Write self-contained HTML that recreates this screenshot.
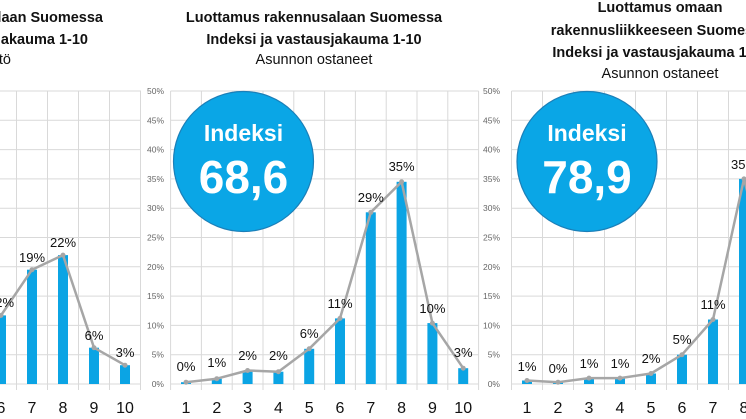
<!DOCTYPE html>
<html><head><meta charset="utf-8"><style>
html,body{margin:0;padding:0;background:#fff;}
svg{display:block;font-family:"Liberation Sans",sans-serif;}
.t{font-weight:bold;font-size:14.5px;fill:#111;}
.s{font-size:14.5px;fill:#111;}
.ya{font-size:8.5px;fill:#666;text-anchor:end;}
.xa{font-size:16px;fill:#111;text-anchor:middle;}
.dl{font-size:13px;fill:#111;text-anchor:middle;}
.g{stroke:#d9d9d9;stroke-width:1;}
.b{fill:#0ba4e4;}
.ln{fill:none;stroke:#a6a6a6;stroke-width:2.5;stroke-linejoin:round;}
.mk{fill:#a6a6a6;}
.ci{fill:#0aa6e6;stroke:#1b7fb8;stroke-width:1.2;}
.i1{font-weight:bold;font-size:23px;fill:#fff;text-anchor:middle;}
.i2{font-weight:bold;font-size:46px;fill:#fff;text-anchor:middle;}
</style></head><body>
<svg width="746" height="419" viewBox="0 0 746 419">
<!-- LEFT CHART -->
<g class="g">
<line x1="0" y1="384" x2="141" y2="384"/><line x1="0" y1="354.7" x2="141" y2="354.7"/><line x1="0" y1="325.4" x2="141" y2="325.4"/><line x1="0" y1="296.1" x2="141" y2="296.1"/><line x1="0" y1="266.8" x2="141" y2="266.8"/><line x1="0" y1="237.5" x2="141" y2="237.5"/><line x1="0" y1="208.2" x2="141" y2="208.2"/><line x1="0" y1="178.9" x2="141" y2="178.9"/><line x1="0" y1="149.6" x2="141" y2="149.6"/><line x1="0" y1="120.3" x2="141" y2="120.3"/><line x1="0" y1="91" x2="141" y2="91"/>
<line x1="16.5" y1="91" x2="16.5" y2="390"/><line x1="47.5" y1="91" x2="47.5" y2="390"/><line x1="78.5" y1="91" x2="78.5" y2="390"/><line x1="109.5" y1="91" x2="109.5" y2="390"/><line x1="140.5" y1="91" x2="140.5" y2="390"/>
</g>
<rect class="b" x="-4" y="315.4" width="10" height="68.6"/>
<rect class="b" x="27" y="269.7" width="10" height="114.3"/>
<rect class="b" x="58" y="255.1" width="10" height="128.9"/>
<rect class="b" x="89" y="347.7" width="10" height="36.3"/>
<rect class="b" x="120" y="365.2" width="10" height="18.8"/>
<polyline class="ln" points="-30,348.8 1,315.4 32,269.7 63,255.1 94,347.7 125,365.2"/>
<circle class="mk" cx="1" cy="315.4" r="2.5"/><circle class="mk" cx="32" cy="269.7" r="2.5"/><circle class="mk" cx="63" cy="255.1" r="2.5"/><circle class="mk" cx="94" cy="347.7" r="2.5"/><circle class="mk" cx="125" cy="365.2" r="2.5"/>
<text class="dl" x="1" y="307">12%</text><text class="dl" x="32" y="262">19%</text><text class="dl" x="63" y="247">22%</text><text class="dl" x="94" y="340">6%</text><text class="dl" x="125" y="357">3%</text>
<text class="xa" x="1" y="413">6</text><text class="xa" x="32" y="413">7</text><text class="xa" x="63" y="413">8</text><text class="xa" x="94" y="413">9</text><text class="xa" x="125" y="413">10</text>
<text class="t" x="103" y="22" text-anchor="end">Luottamus rakennusalaan Suomessa</text>
<text class="t" x="88" y="44" text-anchor="end">Indeksi ja vastausjakauma 1-10</text>
<text class="s" x="11" y="64" text-anchor="end">Koko väestö</text>

<!-- MIDDLE CHART -->
<g class="g">
<line x1="170.6" y1="384" x2="478.6" y2="384"/><line x1="170.6" y1="354.7" x2="478.6" y2="354.7"/><line x1="170.6" y1="325.4" x2="478.6" y2="325.4"/><line x1="170.6" y1="296.1" x2="478.6" y2="296.1"/><line x1="170.6" y1="266.8" x2="478.6" y2="266.8"/><line x1="170.6" y1="237.5" x2="478.6" y2="237.5"/><line x1="170.6" y1="208.2" x2="478.6" y2="208.2"/><line x1="170.6" y1="178.9" x2="478.6" y2="178.9"/><line x1="170.6" y1="149.6" x2="478.6" y2="149.6"/><line x1="170.6" y1="120.3" x2="478.6" y2="120.3"/><line x1="170.6" y1="91" x2="478.6" y2="91"/>
<line x1="170.6" y1="91" x2="170.6" y2="390"/><line x1="201.4" y1="91" x2="201.4" y2="390"/><line x1="232.2" y1="91" x2="232.2" y2="390"/><line x1="263" y1="91" x2="263" y2="390"/><line x1="293.8" y1="91" x2="293.8" y2="390"/><line x1="324.6" y1="91" x2="324.6" y2="390"/><line x1="355.4" y1="91" x2="355.4" y2="390"/><line x1="386.2" y1="91" x2="386.2" y2="390"/><line x1="417" y1="91" x2="417" y2="390"/><line x1="447.8" y1="91" x2="447.8" y2="390"/><line x1="478.6" y1="91" x2="478.6" y2="390"/>
</g>
<text class="ya" x="164" y="387">0%</text><text class="ya" x="164" y="357.7">5%</text><text class="ya" x="164" y="328.4">10%</text><text class="ya" x="164" y="299.1">15%</text><text class="ya" x="164" y="269.8">20%</text><text class="ya" x="164" y="240.5">25%</text><text class="ya" x="164" y="211.2">30%</text><text class="ya" x="164" y="181.9">35%</text><text class="ya" x="164" y="152.6">40%</text><text class="ya" x="164" y="123.3">45%</text><text class="ya" x="164" y="94">50%</text>
<rect class="b" x="181" y="382.2" width="10" height="1.8"/>
<rect class="b" x="211.8" y="378.7" width="10" height="5.3"/>
<rect class="b" x="242.6" y="370.5" width="10" height="13.5"/>
<rect class="b" x="273.4" y="371.7" width="10" height="12.3"/>
<rect class="b" x="304.2" y="348.8" width="10" height="35.2"/>
<rect class="b" x="335" y="318.4" width="10" height="65.6"/>
<rect class="b" x="365.8" y="212.3" width="10" height="171.7"/>
<rect class="b" x="396.6" y="181.8" width="10" height="202.2"/>
<rect class="b" x="427.4" y="323.1" width="10" height="60.9"/>
<rect class="b" x="458.2" y="368.2" width="10" height="15.8"/>
<polyline class="ln" points="186,382.2 216.8,378.7 247.6,370.5 278.4,371.7 309.2,348.8 340,318.4 370.8,212.3 401.6,181.8 432.4,323.1 463.2,368.2"/>
<g class="mk"><circle cx="186" cy="382.2" r="2.5"/><circle cx="216.8" cy="378.7" r="2.5"/><circle cx="247.6" cy="370.5" r="2.5"/><circle cx="278.4" cy="371.7" r="2.5"/><circle cx="309.2" cy="348.8" r="2.5"/><circle cx="340" cy="318.4" r="2.5"/><circle cx="370.8" cy="212.3" r="2.5"/><circle cx="401.6" cy="181.8" r="2.5"/><circle cx="432.4" cy="323.1" r="2.5"/><circle cx="463.2" cy="368.2" r="2.5"/></g>
<text class="dl" x="186" y="371">0%</text><text class="dl" x="216.8" y="367">1%</text><text class="dl" x="247.6" y="360">2%</text><text class="dl" x="278.4" y="360">2%</text><text class="dl" x="309.2" y="338">6%</text><text class="dl" x="340" y="308">11%</text><text class="dl" x="370.8" y="202">29%</text><text class="dl" x="401.6" y="171">35%</text><text class="dl" x="432.4" y="313">10%</text><text class="dl" x="463.2" y="357">3%</text>
<text class="xa" x="186" y="413">1</text><text class="xa" x="216.8" y="413">2</text><text class="xa" x="247.6" y="413">3</text><text class="xa" x="278.4" y="413">4</text><text class="xa" x="309.2" y="413">5</text><text class="xa" x="340" y="413">6</text><text class="xa" x="370.8" y="413">7</text><text class="xa" x="401.6" y="413">8</text><text class="xa" x="432.4" y="413">9</text><text class="xa" x="463.2" y="413">10</text>
<circle class="ci" cx="243.5" cy="161.5" r="70"/>
<text class="i1" x="243.5" y="141">Indeksi</text>
<text class="i2" x="243.5" y="193">68,6</text>
<text class="t" x="314" y="22" text-anchor="middle">Luottamus rakennusalaan Suomessa</text>
<text class="t" x="314" y="44" text-anchor="middle">Indeksi ja vastausjakauma 1-10</text>
<text class="s" x="314" y="64" text-anchor="middle">Asunnon ostaneet</text>

<!-- RIGHT CHART -->
<g class="g">
<line x1="511.5" y1="384" x2="746" y2="384"/><line x1="511.5" y1="354.7" x2="746" y2="354.7"/><line x1="511.5" y1="325.4" x2="746" y2="325.4"/><line x1="511.5" y1="296.1" x2="746" y2="296.1"/><line x1="511.5" y1="266.8" x2="746" y2="266.8"/><line x1="511.5" y1="237.5" x2="746" y2="237.5"/><line x1="511.5" y1="208.2" x2="746" y2="208.2"/><line x1="511.5" y1="178.9" x2="746" y2="178.9"/><line x1="511.5" y1="149.6" x2="746" y2="149.6"/><line x1="511.5" y1="120.3" x2="746" y2="120.3"/><line x1="511.5" y1="91" x2="746" y2="91"/>
<line x1="511.5" y1="91" x2="511.5" y2="390"/><line x1="542.5" y1="91" x2="542.5" y2="390"/><line x1="573.5" y1="91" x2="573.5" y2="390"/><line x1="604.5" y1="91" x2="604.5" y2="390"/><line x1="635.5" y1="91" x2="635.5" y2="390"/><line x1="666.5" y1="91" x2="666.5" y2="390"/><line x1="697.5" y1="91" x2="697.5" y2="390"/><line x1="728.5" y1="91" x2="728.5" y2="390"/>
</g>
<text class="ya" x="500" y="387">0%</text><text class="ya" x="500" y="357.7">5%</text><text class="ya" x="500" y="328.4">10%</text><text class="ya" x="500" y="299.1">15%</text><text class="ya" x="500" y="269.8">20%</text><text class="ya" x="500" y="240.5">25%</text><text class="ya" x="500" y="211.2">30%</text><text class="ya" x="500" y="181.9">35%</text><text class="ya" x="500" y="152.6">40%</text><text class="ya" x="500" y="123.3">45%</text><text class="ya" x="500" y="94">50%</text>
<rect class="b" x="522" y="380.5" width="10" height="3.5"/>
<rect class="b" x="553" y="382.2" width="10" height="1.8"/>
<rect class="b" x="584" y="378.1" width="10" height="5.9"/>
<rect class="b" x="615" y="378.1" width="10" height="5.9"/>
<rect class="b" x="646" y="373.5" width="10" height="10.5"/>
<rect class="b" x="677" y="354.7" width="10" height="29.3"/>
<rect class="b" x="708" y="319.5" width="10" height="64.5"/>
<rect class="b" x="739" y="178.9" width="10" height="205.1"/>
<polyline class="ln" points="527,380.5 558,382.2 589,378.1 620,378.1 651,373.5 682,354.7 713,319.5 744,178.9 775,300"/>
<g class="mk"><circle cx="527" cy="380.5" r="2.5"/><circle cx="558" cy="382.2" r="2.5"/><circle cx="589" cy="378.1" r="2.5"/><circle cx="620" cy="378.1" r="2.5"/><circle cx="651" cy="373.5" r="2.5"/><circle cx="682" cy="354.7" r="2.5"/><circle cx="713" cy="319.5" r="2.5"/><circle cx="744" cy="178.9" r="2.5"/></g>
<text class="dl" x="527" y="371">1%</text><text class="dl" x="558" y="373">0%</text><text class="dl" x="589" y="368">1%</text><text class="dl" x="620" y="368">1%</text><text class="dl" x="651" y="363">2%</text><text class="dl" x="682" y="344">5%</text><text class="dl" x="713" y="309">11%</text><text class="dl" x="744" y="169">35%</text>
<text class="xa" x="527" y="413">1</text><text class="xa" x="558" y="413">2</text><text class="xa" x="589" y="413">3</text><text class="xa" x="620" y="413">4</text><text class="xa" x="651" y="413">5</text><text class="xa" x="682" y="413">6</text><text class="xa" x="713" y="413">7</text><text class="xa" x="744" y="413">8</text>
<circle class="ci" cx="587" cy="161.5" r="70"/>
<text class="i1" x="587" y="141">Indeksi</text>
<text class="i2" x="587" y="193">78,9</text>
<text class="t" x="660" y="12" text-anchor="middle">Luottamus omaan</text>
<text class="t" x="660" y="35" text-anchor="middle">rakennusliikkeeseen Suomessa</text>
<text class="t" x="660" y="57" text-anchor="middle">Indeksi ja vastausjakauma 1-10</text>
<text class="s" x="660" y="78" text-anchor="middle">Asunnon ostaneet</text>
</svg>
</body></html>
